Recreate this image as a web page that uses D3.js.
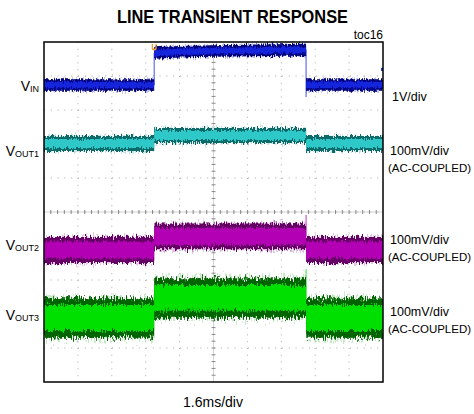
<!DOCTYPE html>
<html><head><meta charset="utf-8">
<script src="https://cdn.jsdelivr.net/npm/d3@7/dist/d3.min.js"></script>
<style>body{margin:0;background:#fff;} svg{display:block;font-family:"Liberation Sans",Arial,sans-serif;}</style>
</head><body><svg id="c" width="474" height="414"></svg>
<script>
// ---------------- data ----------------
const titleText = "LINE TRANSIENT RESPONSE";
const tocText = "toc16";
const timeLabel = "1.6ms/div";
const msPerDiv = 1.6;
const hDivs = 10, vDivs = 10;

const channelSubs = ["IN", "OUT1", "OUT2", "OUT3"];
const channelScaleText = ["1V/div", "100mV/div", "100mV/div", "100mV/div"];
const channelNote = ["", "(AC-COUPLED)", "(AC-COUPLED)", "(AC-COUPLED)"];
const voltsPerDiv = [1, 0.1, 0.1, 0.1];
const offsetDiv = [3.735, 2.015, -1.118, -3.118];   // scope channel position (div)

// waveforms (time in ms, value in V relative to channel ground)
const vinTimeMs  = [0, 5.2, 5.2, 6.4, 8.0, 12.37, 12.37, 16];
const vinVolts   = [0, 0, 0.94, 0.98, 1.0, 1.04, 0, 0];
const voutTimeMs = [0, 5.2, 5.2, 12.37, 12.37, 16];
const vout1Volts = [0, 0, 0.0235, 0.0235, 0, 0];
const vout2Volts = [0, 0, 0.040, 0.040, 0, 0];
const vout3Volts = [0, 0, 0.059, 0.059, 0, 0];
// noise envelope peak-to-peak (V): outer band and bright core
const noiseOuterPkPk = [0.34, 0.044, 0.076, 0.116];
const noiseCorePkPk  = [0.19, 0.026, 0.050, 0.076];
// transition glitches at the falling edge (V, from -> to)
const fallGlitchFrom = [1.04, 0.0235, 0.040, 0.059];
const fallGlitchTo   = [-0.355, 0.0235, 0.103, 0.144];
const fallTimeMs = 12.37, riseTimeMs = 5.2;

// ---------------- drawing ----------------
const svg = d3.select("#c");
const L = 44, R = 383, T = 42, B = 382;
const x = d3.scaleLinear().domain([0, hDivs * msPerDiv]).range([L, R]);
const yDiv = d3.scaleLinear().domain([-vDivs / 2, vDivs / 2]).range([B, T]);

const colors = [
  {faint: "#5060d0", dark: "#00007a", core: "#1525dc"},
  {faint: "#70c0c0", dark: "#0b6b6b", core: "#2ec8c8"},
  {faint: "#c070c0", dark: "#650065", core: "#b400b4"},
  {faint: "#70c870", dark: "#006400", core: "#00e000"}
];
const dispScale = [[12, 7, 6], [14, 8, 6], [18, 10, 8], [28, 14, 10]];

const defs = svg.append("defs");
defs.append("clipPath").attr("id", "plotclip").append("rect")
  .attr("x", L).attr("y", T).attr("width", R - L).attr("height", B - T);

function makeFilter(id, seed, scale) {
  const f = defs.append("filter").attr("id", id)
    .attr("filterUnits", "userSpaceOnUse").attr("x", 0).attr("y", 0)
    .attr("width", 474).attr("height", 414)
    .attr("color-interpolation-filters", "sRGB");
  f.append("feTurbulence").attr("type", "fractalNoise")
    .attr("baseFrequency", "0.9 0.18").attr("numOctaves", 2)
    .attr("seed", seed).attr("result", "n");
  f.append("feColorMatrix").attr("in", "n").attr("type", "matrix")
    .attr("values", "0 0 0 0 0.5  0 1 0 0 0  0 0 0 0 0  0 0 0 0 1").attr("result", "m");
  f.append("feDisplacementMap").attr("in", "SourceGraphic").attr("in2", "m")
    .attr("scale", scale).attr("xChannelSelector", "R").attr("yChannelSelector", "G");
}

// grid
const grid = svg.append("g");
for (let i = 1; i < hDivs; i++) {
  grid.append("line").attr("x1", x(i * msPerDiv)).attr("x2", x(i * msPerDiv))
    .attr("y1", T).attr("y2", B).attr("stroke", "#a8a8a8").attr("stroke-width", 1)
    .attr("stroke-dasharray", "1,5.8");
}
for (let i = 1; i < vDivs; i++) {
  grid.append("line").attr("y1", yDiv(i - vDivs / 2)).attr("y2", yDiv(i - vDivs / 2))
    .attr("x1", L).attr("x2", R).attr("stroke", "#a8a8a8").attr("stroke-width", 1)
    .attr("stroke-dasharray", "1,5.8");
}
const cx = x(hDivs * msPerDiv / 2), cy = yDiv(0);
grid.append("line").attr("x1", cx).attr("x2", cx).attr("y1", T).attr("y2", B)
  .attr("stroke", "#c8c8c8").attr("stroke-width", 0.8);
grid.append("line").attr("x1", L).attr("x2", R).attr("y1", cy).attr("y2", cy)
  .attr("stroke", "#c8c8c8").attr("stroke-width", 0.8);
for (let k = 1; k < hDivs * 5; k++) {
  const xx = x(k * msPerDiv / 5);
  grid.append("line").attr("x1", xx).attr("x2", xx).attr("y1", cy - 2).attr("y2", cy + 2)
    .attr("stroke", "#888").attr("stroke-width", 1);
}
for (let k = 1; k < vDivs * 5; k++) {
  const yy = yDiv(k / 5 - vDivs / 2);
  grid.append("line").attr("y1", yy).attr("y2", yy).attr("x1", cx - 2).attr("x2", cx + 2)
    .attr("stroke", "#888").attr("stroke-width", 1);
}

// traces
const traceData = [
  vinTimeMs.map((t, k) => ({t, v: vinVolts[k]})),
  voutTimeMs.map((t, k) => ({t, v: vout1Volts[k]})),
  voutTimeMs.map((t, k) => ({t, v: vout2Volts[k]})),
  voutTimeMs.map((t, k) => ({t, v: vout3Volts[k]}))
];
const traces = svg.append("g").attr("clip-path", "url(#plotclip)");
traceData.forEach((data, i) => {
  const yv = v => yDiv(offsetDiv[i] + v / voltsPerDiv[i]);
  const layers = [
    {hw: noiseOuterPkPk[i] / 2, color: colors[i].faint, op: 0.4, scale: dispScale[i][0]},
    {hw: noiseOuterPkPk[i] / 2, color: colors[i].dark, op: 1, scale: dispScale[i][1]},
    {hw: noiseCorePkPk[i] / 2, color: colors[i].core, op: 1, scale: dispScale[i][2]}
  ];
  const g = traces.append("g");
  g.append("line").attr("x1", x(fallTimeMs)).attr("x2", x(fallTimeMs))
    .attr("y1", yv(fallGlitchFrom[i])).attr("y2", yv(fallGlitchTo[i]))
    .attr("stroke", colors[i].core).attr("stroke-width", 1).attr("opacity", 0.8);
  g.append("line").attr("x1", x(riseTimeMs)).attr("x2", x(riseTimeMs))
    .attr("y1", yv(data[1].v)).attr("y2", yv(data[2].v))
    .attr("stroke", colors[i].core).attr("stroke-width", 1).attr("opacity", 0.8);
  layers.forEach((ly, j) => {
    const fid = "f" + i + "_" + j;
    makeFilter(fid, 7 + i * 13 + j * 5, ly.scale);
    const area = d3.area().x(d => x(d.t)).y0(d => yv(d.v - ly.hw)).y1(d => yv(d.v + ly.hw));
    g.append("path").datum(data).attr("d", area).attr("fill", ly.color)
      .attr("opacity", ly.op).attr("filter", `url(#${fid})`);
  });
});

// markers
svg.append("path")
  .attr("d", `M${x(riseTimeMs) - 2.5},${T + 2} v4 q0,2.5 2.5,2.5 q2.5,0 2.5,-2.5 v-4 h-1.3 v3.5 q0,1.3 -1.2,1.3 q-1.2,0 -1.2,-1.3 v-3.5 z`)
  .attr("fill", "#f0a030");
svg.append("rect").attr("x", R - 2).attr("y", yDiv(offsetDiv[0] + 0.46) - 1.5)
  .attr("width", 2).attr("height", 3).attr("fill", "#1a3ae0");

// frame
svg.append("rect").attr("x", L).attr("y", T).attr("width", R - L).attr("height", B - T)
  .attr("fill", "none").attr("stroke", "#000").attr("stroke-width", 1.5);

// texts
svg.append("text").attr("x", 232.5).attr("y", 23).attr("text-anchor", "middle")
  .attr("font-family", "'Liberation Sans Narrow','Arial Narrow','Liberation Sans',Arial,sans-serif")
  .attr("font-weight", "bold").attr("font-size", 18)
  .attr("textLength", 231).attr("lengthAdjust", "spacingAndGlyphs").text(titleText);
svg.append("text").attr("x", 383).attr("y", 39).attr("text-anchor", "end")
  .attr("font-size", 12).text(tocText);
svg.append("text").attr("x", 213).attr("y", 407).attr("text-anchor", "middle")
  .attr("font-size", 14).text(timeLabel);

const leftLabelY = [91, 156, 250, 320];
channelSubs.forEach((s, i) => {
  const t = svg.append("text").attr("x", 39).attr("y", leftLabelY[i]).attr("text-anchor", "end")
    .attr("font-size", 14);
  t.append("tspan").text("V");
  t.append("tspan").attr("font-size", 9).attr("dy", 0.5).text(s);
});
const rightLabelY = [101, 155, 244, 316];
channelScaleText.forEach((s, i) => {
  svg.append("text").attr("x", i === 0 ? 392 : 390).attr("y", rightLabelY[i])
    .attr("font-size", 12.5).text(s);
  if (channelNote[i]) {
    svg.append("text").attr("x", 388).attr("y", rightLabelY[i] + 17)
      .attr("font-size", 11.5).text(channelNote[i]);
  }
});
</script></body></html>
